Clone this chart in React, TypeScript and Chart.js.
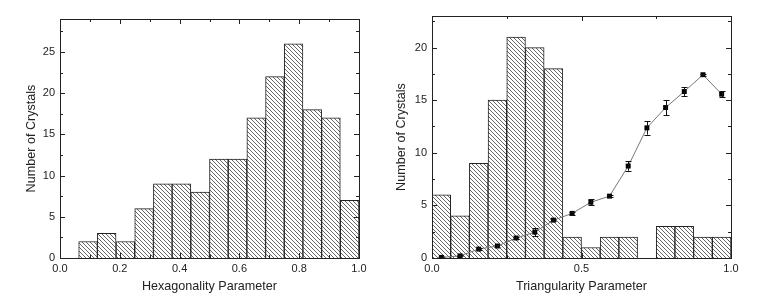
import React, { useEffect, useRef } from "react";
import { Chart, registerables } from "chart.js";

Chart.register(...registerables);

const BIN_WIDTH = 0.0625;
const binCenters = Array.from({ length: 16 }, (_, i) => (i + 0.5) * BIN_WIDTH);

const hexCounts = [0, 2, 3, 2, 6, 9, 9, 8, 12, 12, 17, 22, 26, 18, 17, 7];
const triCounts = [6, 4, 9, 15, 21, 20, 18, 2, 1, 2, 2, 0, 3, 3, 2, 2];
const triMean = [0.06, 0.2, 0.85, 1.14, 1.9, 2.46, 3.6, 4.24, 5.3, 5.88, 8.74, 12.37, 14.3, 15.82, 17.42, 15.57];
const triErr = [0.05, 0.05, 0.1, 0.1, 0.12, 0.4, 0.12, 0.12, 0.3, 0.12, 0.45, 0.65, 0.72, 0.42, 0.08, 0.28];

const hexXTicks = [0, 0.2, 0.4, 0.6, 0.8, 1.0];
const triXTicks = [0, 0.5, 1.0];
const hexYTicks = [0, 5, 10, 15, 20, 25];
const triYTicks = [0, 5, 10, 15, 20];

const FONT = "'Liberation Sans', Arial, sans-serif";

function makeHatch(): CanvasPattern | string {
  const c = document.createElement("canvas");
  const s = 4;
  c.width = s;
  c.height = s;
  const ctx = c.getContext("2d");
  if (!ctx) return "#fff";
  ctx.fillStyle = "#fff";
  ctx.fillRect(0, 0, s, s);
  ctx.strokeStyle = "#555";
  ctx.lineWidth = 0.9;
  ctx.beginPath();
  ctx.moveTo(-1, -1);
  ctx.lineTo(s + 1, s + 1);
  ctx.moveTo(-1, s - 1);
  ctx.lineTo(1, s + 1);
  ctx.moveTo(s - 1, -1);
  ctx.lineTo(s + 1, 1);
  ctx.stroke();
  const p = ctx.createPattern(c, "repeat");
  return p || "#fff";
}

const frameTicks = (xMinor: number, yMinor: number) => ({
  id: "frameTicks",
  afterDatasetsDraw(chart: any) {
    const { ctx, chartArea } = chart;
    const { left, right, top, bottom } = chartArea;
    const xs = chart.scales.x;
    const ys = chart.scales.y;
    ctx.save();
    ctx.strokeStyle = "#222";
    ctx.lineWidth = 1;
    ctx.strokeRect(Math.round(left) + 0.5, Math.round(top) + 0.5, Math.round(right - left), Math.round(bottom - top));
    ctx.beginPath();
    const xMajor = xs.ticks.map((t: any) => t.value);
    for (let v = xs.min; v <= xs.max + 1e-9; v += xMinor) {
      const isMajor = xMajor.some((m: number) => Math.abs(m - v) < 1e-6);
      const len = isMajor ? 5 : 3;
      const px = Math.round(xs.getPixelForValue(v)) + 0.5;
      ctx.moveTo(px, bottom);
      ctx.lineTo(px, bottom - len);
      ctx.moveTo(px, top);
      ctx.lineTo(px, top + len);
    }
    const yMajor = ys.ticks.map((t: any) => t.value);
    for (let v = 0; v <= ys.max + 1e-9; v += yMinor) {
      const isMajor = yMajor.some((m: number) => Math.abs(m - v) < 1e-6);
      const len = isMajor ? 5 : 3;
      const py = Math.round(ys.getPixelForValue(v)) + 0.5;
      ctx.moveTo(left, py);
      ctx.lineTo(left + len, py);
      ctx.moveTo(right, py);
      ctx.lineTo(right - len, py);
    }
    ctx.stroke();
    ctx.restore();
  },
});

const errorBars = {
  id: "errorBars",
  afterDatasetsDraw(chart: any) {
    const ds = chart.data.datasets[1];
    if (!ds) return;
    const { ctx } = chart;
    const xs = chart.scales.x;
    const ys = chart.scales.y;
    ctx.save();
    ctx.strokeStyle = "#111";
    ctx.lineWidth = 1;
    ctx.beginPath();
    binCenters.forEach((x, i) => {
      const px = Math.round(xs.getPixelForValue(x)) + 0.5;
      const yt = ys.getPixelForValue(triMean[i] + triErr[i]);
      const yb = ys.getPixelForValue(triMean[i] - triErr[i]);
      ctx.moveTo(px, yt);
      ctx.lineTo(px, yb);
      ctx.moveTo(px - 3, Math.round(yt) + 0.5);
      ctx.lineTo(px + 3, Math.round(yt) + 0.5);
      ctx.moveTo(px - 3, Math.round(yb) + 0.5);
      ctx.lineTo(px + 3, Math.round(yb) + 0.5);
    });
    ctx.stroke();
    ctx.restore();
  },
};

function baseOptions(
  xTitle: string,
  yMax: number,
  xTicks: number[],
  yTicks: number[],
  yAxisWidth: number,
  yTitlePad: number,
  padding: any
): any {
  return {
    animation: false,
    responsive: false,
    maintainAspectRatio: false,
    layout: { padding },
    plugins: { legend: { display: false }, tooltip: { enabled: false } },
    scales: {
      x: {
        type: "linear",
        min: 0,
        max: 1,
        offset: false,
        grid: { display: false, drawTicks: false },
        border: { display: false },
        afterBuildTicks: (s: any) => {
          s.ticks = xTicks.map((v) => ({ value: v }));
        },
        afterFit: (s: any) => {
          s.height = 50;
        },
        ticks: {
          color: "#222",
          font: { family: FONT, size: 11 },
          padding: 4,
          maxRotation: 0,
          callback: (v: number) => v.toFixed(1),
        },
        title: {
          display: true,
          text: xTitle,
          color: "#222",
          font: { family: FONT, size: 12.6 },
          padding: { top: 0, bottom: 14 },
        },
      },
      y: {
        type: "linear",
        min: 0,
        max: yMax,
        grid: { display: false, drawTicks: false },
        border: { display: false },
        afterBuildTicks: (s: any) => {
          s.ticks = yTicks.map((v) => ({ value: v }));
        },
        afterFit: (s: any) => {
          s.width = yAxisWidth;
        },
        ticks: {
          color: "#222",
          font: { family: FONT, size: 11 },
          padding: 5,
        },
        title: {
          display: true,
          text: "Number of Crystals",
          color: "#222",
          font: { family: FONT, size: 12.6 },
          padding: { top: yTitlePad, bottom: 0 },
        },
      },
    },
  };
}

export default function App() {
  const ref1 = useRef<HTMLCanvasElement>(null);
  const ref2 = useRef<HTMLCanvasElement>(null);

  useEffect(() => {
    const hatch = makeHatch();
    const c1 = new Chart(ref1.current as HTMLCanvasElement, {
      type: "bar",
      data: {
        datasets: [
          {
            data: binCenters.map((x, i) => ({ x, y: hexCounts[i] })),
            backgroundColor: hatch as any,
            borderColor: "#222",
            borderWidth: 1,
            barPercentage: 1,
            categoryPercentage: 1,
          } as any,
        ],
      },
      options: baseOptions("Hexagonality Parameter", 29, hexXTicks, hexYTicks, 60, 24, {
        left: 0,
        right: 21,
        top: 19,
        bottom: 0,
      }),
      plugins: [frameTicks(0.1, 2.5)],
    });

    const c2 = new Chart(ref2.current as HTMLCanvasElement, {
      type: "bar",
      data: {
        datasets: [
          {
            type: "bar",
            data: binCenters.map((x, i) => ({ x, y: triCounts[i] })),
            backgroundColor: hatch as any,
            borderColor: "#222",
            borderWidth: 1,
            barPercentage: 1,
            categoryPercentage: 1,
            order: 2,
          } as any,
          {
            type: "line",
            data: binCenters.map((x, i) => ({ x, y: triMean[i] })),
            borderColor: "#777",
            borderWidth: 1,
            pointStyle: "rect",
            pointRadius: 3.5,
            pointBackgroundColor: "#000",
            pointBorderColor: "#000",
            pointBorderWidth: 0,
            tension: 0,
            order: 1,
          } as any,
        ],
      },
      options: baseOptions("Triangularity Parameter", 23, triXTicks, triYTicks, 52, 14, {
        left: 0,
        right: 30,
        top: 16,
        bottom: 0,
      }),
      plugins: [frameTicks(0.25, 2.5), errorBars],
    });

    return () => {
      c1.destroy();
      c2.destroy();
    };
  }, []);

  return (
    <div style={{ position: "absolute", left: 0, top: 0, width: 761, height: 308, background: "#fff" }}>
      <canvas ref={ref1} width={380} height={308} style={{ position: "absolute", left: 0, top: 0, width: 380, height: 308 }} />
      <canvas ref={ref2} width={381} height={308} style={{ position: "absolute", left: 380, top: 0, width: 381, height: 308 }} />
    </div>
  );
}
